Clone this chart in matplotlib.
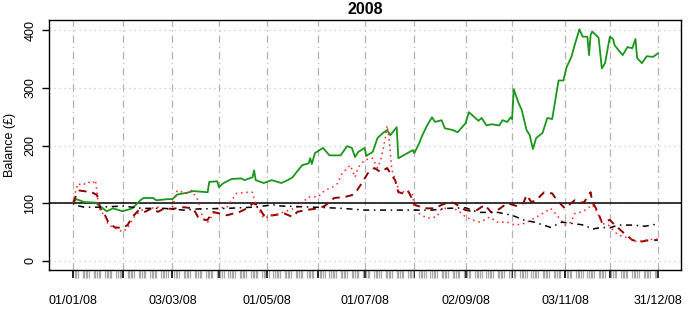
import numpy as np
import pandas as pd
import matplotlib
matplotlib.use('Agg')
import matplotlib.pyplot as plt

plt.rcParams['font.family'] = ['Liberation Sans', 'DejaVu Sans']

start = pd.Timestamp('2008-01-01')

# balances, keyed by day offset from 01/01/08
green_days = [0, 2, 7, 14, 21, 25, 31, 37, 42, 44, 50, 52, 59, 62, 65, 71, 75, 84, 85, 90,
              91, 94, 99, 105, 107, 112, 113, 114, 119, 124, 130, 134, 137, 143, 147, 148, 149, 151, 156, 160,
              167, 171, 174, 176, 178, 182, 183, 187, 188, 190, 193, 196, 198, 202, 203, 212, 213, 216, 218, 221,
              224, 226, 230, 232, 237, 240, 245, 247, 251, 253, 255, 258, 261, 266, 268, 271, 273, 274, 275, 278,
              280, 283, 285, 287, 289, 293, 296, 299, 303, 306, 308, 311, 313, 316, 318, 321, 322, 323, 324, 328,
              330, 332, 335, 337, 338, 343, 346, 349, 351, 352, 355, 358, 362, 365]
green_vals = [100, 107, 102, 101, 86, 91, 86, 91, 105, 109, 109, 105, 107, 107, 115, 118, 121, 119, 137, 138,
              128, 135, 142, 143, 140, 145, 157, 140, 135, 140, 135, 140, 145, 166, 169, 178, 168, 187, 196, 183,
              183, 199, 196, 180, 189, 196, 182, 189, 197, 213, 221, 227, 218, 232, 178, 192, 187, 204, 218, 235,
              249, 241, 244, 230, 227, 223, 239, 258, 248, 243, 248, 235, 237, 235, 244, 241, 249, 246, 298, 274,
              262, 227, 218, 194, 213, 222, 248, 246, 313, 313, 336, 354, 374, 402, 389, 389, 357, 392, 398, 387,
              334, 343, 389, 385, 374, 357, 371, 369, 385, 352, 343, 355, 354, 360]

darkred_days = [0, 2, 4, 9, 11, 15, 17, 20, 22, 26, 31, 34, 37, 41, 45, 49, 53, 57, 62, 69,
                75, 78, 81, 84, 87, 90, 96, 104, 110, 112, 115, 119, 125, 132, 137, 140, 145, 153, 157, 163,
                170, 174, 176, 180, 184, 188, 192, 196, 198, 201, 203, 206, 209, 212, 213, 218, 221, 226, 230, 235,
                238, 243, 245, 249, 252, 257, 261, 265, 271, 277, 281, 283, 286, 289, 294, 299, 302, 307, 313, 316,
                319, 323, 324, 327, 330, 335, 337, 343, 349, 354, 360, 365]
darkred_vals = [100, 114, 122, 120, 120, 114, 91, 79, 67, 58, 57, 62, 76, 88, 85, 91, 85, 91, 90, 93,
                91, 76, 71, 71, 85, 83, 79, 85, 93, 100, 97, 79, 79, 82, 76, 85, 88, 91, 95, 109,
                111, 114, 117, 134, 152, 161, 154, 161, 152, 140, 119, 117, 122, 105, 97, 93, 91, 91, 97, 102,
                100, 91, 88, 86, 88, 97, 84, 88, 100, 95, 100, 114, 102, 105, 119, 117, 105, 91, 105, 100,
                102, 119, 102, 88, 67, 71, 65, 50, 36, 33, 36, 36]

red_days = [0, 1, 3, 6, 9, 12, 14, 15, 16, 20, 22, 26, 31, 34, 37, 39, 43, 48, 53, 57,
            62, 65, 71, 74, 78, 81, 84, 87, 90, 96, 102, 109, 112, 114, 119, 125, 132, 140, 147, 153,
            157, 162, 165, 168, 173, 176, 178, 182, 187, 190, 192, 195, 196, 197, 199, 202, 204, 208, 212, 213,
            216, 221, 227, 230, 236, 240, 245, 249, 254, 260, 265, 271, 276, 282, 288, 293, 298, 302, 307, 311,
            313, 318, 324, 327, 330, 334, 340, 346, 352, 357, 365]
red_vals = [100, 114, 134, 131, 137, 134, 140, 117, 93, 76, 62, 57, 50, 57, 71, 79, 88, 91, 93, 88,
            93, 122, 117, 122, 105, 74, 67, 79, 91, 93, 117, 119, 119, 97, 74, 79, 85, 93, 111, 111,
            122, 128, 134, 152, 166, 145, 162, 175, 178, 161, 175, 215, 235, 218, 157, 134, 117, 122, 114, 91,
            82, 74, 76, 91, 91, 88, 76, 71, 67, 76, 67, 67, 62, 65, 74, 82, 91, 79, 62, 67,
            82, 85, 97, 85, 65, 62, 45, 40, 33, 36, 38]

black_days = [0, 1, 7, 16, 31, 43, 57, 69, 78, 96, 112, 125, 130, 151, 168, 182, 192, 213, 224, 234,
              245, 253, 265, 274, 281, 288, 298, 305, 311, 319, 324, 330, 335, 340, 349, 357, 365]
black_vals = [100, 97, 93, 93, 95, 91, 91, 88, 90, 91, 93, 97, 95, 93, 91, 88, 88, 88, 88, 91,
              92, 84, 84, 79, 71, 67, 58, 67, 65, 62, 55, 58, 57, 62, 62, 60, 64]

month_starts = ['2008-01-01', '2008-02-01', '2008-03-03', '2008-04-01', '2008-05-01', '2008-06-02',
                '2008-07-01', '2008-08-01', '2008-09-02', '2008-10-01', '2008-11-03', '2008-12-01', '2008-12-31']
month_labels = ['01/01/08', '', '03/03/08', '', '01/05/08', '', '01/07/08', '',
                '02/09/08', '', '03/11/08', '', '31/12/08']
y_ticks = [0, 100, 200, 300, 400]


def to_dates(days):
    return start + pd.to_timedelta(days, unit='D')


fig = plt.figure(figsize=(6.92, 3.2), dpi=100)
ax = fig.add_axes([49 / 692, 50 / 320, 632 / 692, 250 / 320])

majors = pd.to_datetime(month_starts)

# grid: dotted horizontals, dash-dot verticals at month starts
for yv in y_ticks:
    ax.axhline(yv, color='#c8c8c8', lw=0.9, ls=(0, (1, 3)), zorder=0)
for d in majors:
    ax.axvline(d, color='#b4b4b4', lw=0.9, ls=(0, (6, 3, 1, 3)), zorder=0)

ax.axhline(100, color='black', lw=1.1, zorder=1)

ax.plot(to_dates(green_days), green_vals, color='#1a961a', lw=1.3, zorder=3)
ax.plot(to_dates(darkred_days), darkred_vals, color='#8b0000', lw=1.4, ls=(0, (4, 3)), zorder=3)
ax.plot(to_dates(red_days), red_vals, color='#ff2020', lw=1.1, ls=(0, (1, 2.5)), zorder=3)
ax.plot(to_dates(black_days), black_vals, color='black', lw=1.1, ls=(0, (1, 3, 4, 3)), zorder=3)

ax.set_xlim(start - pd.Timedelta(days=15), start + pd.Timedelta(days=379.4))
ax.set_ylim(-16, 418)

# grey minor ticks on every weekday, black ones at month starts
minor = [d for d in pd.bdate_range('2008-01-01', '2008-12-31') if d not in set(majors)]
ax.set_xticks(majors)
ax.set_xticklabels(month_labels, fontsize=9)
ax.set_xticks(minor, minor=True)
ax.tick_params(axis='x', which='major', length=6, width=1.2, color='black', pad=12)
ax.tick_params(axis='x', which='minor', length=6, width=0.9, color='#a8a8a8')

ax.set_yticks(y_ticks)
ax.set_yticklabels([str(v) for v in y_ticks], rotation=90, va='center', fontsize=9)
ax.tick_params(axis='y', length=5, width=1.0, pad=4)

ax.set_ylabel('Balance (£)', fontsize=9, labelpad=6)
ax.set_title('2008', fontsize=11.5, fontweight='bold', pad=4)

for s in ax.spines.values():
    s.set_linewidth(1.0)

fig.savefig('out.png', dpi=100)
